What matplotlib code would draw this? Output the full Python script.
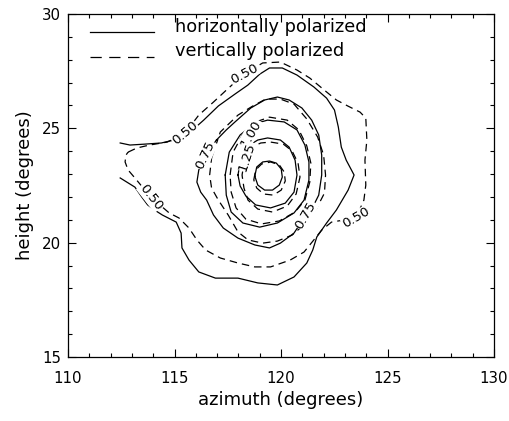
import numpy as np
import matplotlib.pyplot as plt

# contour traces (azimuth, height in degrees)
# horizontally polarized (solid)
h050_x = [112.45, 112.91, 113.60, 114.38, 114.98, 115.68, 116.37, 117.06, 117.84, 118.44, 119.00, 119.46,
          120.06, 120.75, 121.54, 122.14, 122.51, 122.69, 122.83, 123.06, 123.43, 123.15, 122.60, 122.14,
          121.68, 121.49, 121.21, 120.61, 119.83, 118.91, 117.98, 116.92, 116.14, 115.68, 115.35, 115.31,
          115.08, 114.43, 114.06, 113.74, 113.46, 113.14, 112.45]
h050_y = [24.36, 24.27, 24.31, 24.36, 24.49, 24.79, 25.36, 25.98, 26.50, 26.89, 27.37, 27.64,
          27.64, 27.33, 26.81, 26.32, 25.80, 25.06, 24.18, 23.61, 22.96, 22.30, 21.43, 20.86,
          20.25, 19.68, 19.11, 18.50, 18.15, 18.24, 18.45, 18.45, 18.72, 19.24, 19.77, 20.42,
          20.90, 21.21, 21.43, 21.65, 22.00, 22.43, 22.83]

h075_x = [116.97, 117.43, 117.84, 118.58, 119.23, 119.83, 120.38, 120.98, 121.44, 121.77, 121.91, 121.91,
          121.77, 121.54, 121.17, 120.61, 119.97, 119.46, 118.77, 117.98, 117.29, 116.83, 116.51, 116.23,
          116.05, 116.14, 116.46]
h075_y = [24.49, 24.93, 25.28, 25.89, 26.24, 26.37, 26.24, 25.89, 25.36, 24.71, 23.83, 22.96,
          22.08, 21.65, 21.21, 20.42, 19.98, 19.77, 19.90, 20.20, 20.64, 21.21, 21.86, 22.21,
          22.65, 23.18, 23.83]

h100_x = [117.38, 117.57, 118.08, 118.72, 119.37, 120.15, 120.75, 121.12, 121.31, 121.31, 121.08, 120.61,
          119.83, 119.00, 118.21, 117.66, 117.43]
h100_y = [22.96, 23.96, 24.71, 25.19, 25.36, 25.28, 24.93, 24.27, 23.53, 22.74, 21.86, 21.30,
          20.86, 20.68, 20.86, 21.34, 22.08]

h125_x = [117.98, 118.12, 118.45, 118.91, 119.37, 119.97, 120.38, 120.66, 120.75, 120.61, 120.20, 119.51,
          118.81, 118.35, 118.08]
h125_y = [22.96, 23.70, 24.23, 24.49, 24.58, 24.49, 24.18, 23.61, 22.96, 22.21, 21.73, 21.52,
          21.65, 22.04, 22.48]

h150_x = [118.77, 118.86, 119.14, 119.46, 119.78, 120.01, 120.06, 119.92, 119.60, 119.23, 118.91]
h150_y = [22.91, 23.31, 23.53, 23.57, 23.48, 23.22, 22.87, 22.52, 22.30, 22.30, 22.52]

# vertically polarized (dashed)
v050_x = [112.82, 113.23, 113.83, 114.66, 115.49, 116.14, 116.83, 117.43, 118.26, 119.14, 119.97, 120.75,
          121.35, 122.14, 122.60, 123.15, 123.71, 123.98, 124.03, 123.94, 123.98, 123.89, 123.52, 122.37,
          121.91, 121.54, 121.08, 120.43, 119.51, 118.77, 117.98, 117.15, 116.46, 116.05, 115.68, 115.21,
          114.75, 113.88, 113.14, 112.82, 112.68, 112.72]
v050_y = [23.96, 24.14, 24.27, 24.40, 24.79, 25.58, 26.15, 26.67, 27.37, 27.86, 27.90, 27.55,
          27.20, 26.59, 26.24, 25.97, 25.71, 25.45, 24.49, 23.61, 22.52, 21.86, 21.08, 20.90,
          20.55, 20.12, 19.59, 19.24, 18.94, 18.94, 19.11, 19.33, 19.68, 20.12, 20.64, 21.08,
          21.30, 22.00, 22.83, 23.18, 23.53, 23.83]

v075_x = [116.74, 117.15, 117.98, 118.68, 119.28, 119.97, 120.61, 121.21, 121.72, 122.00, 122.09, 122.04,
          121.68, 121.12, 120.52, 119.83, 119.14, 118.45, 117.98, 117.52, 117.06, 116.74, 116.65]
v075_y = [23.70, 24.84, 25.58, 25.98, 26.28, 26.28, 26.06, 25.41, 24.62, 23.83, 22.96, 22.17,
          21.52, 20.82, 20.33, 20.07, 19.98, 20.12, 20.47, 21.21, 21.86, 22.39, 22.96]

v100_x = [117.61, 117.75, 118.21, 118.81, 119.46, 120.29, 120.84, 121.21, 121.40, 121.35, 121.12, 120.66,
          119.92, 119.09, 118.35, 117.89, 117.66]
v100_y = [22.96, 23.96, 24.75, 25.28, 25.49, 25.36, 24.93, 24.23, 23.48, 22.65, 21.86, 21.34,
          20.95, 20.82, 21.03, 21.52, 22.21]

v125_x = [118.17, 118.31, 118.63, 119.05, 119.51, 120.11, 120.52, 120.80, 120.89, 120.71, 120.29, 119.60,
          118.91, 118.45, 118.26]
v125_y = [22.96, 23.70, 24.18, 24.36, 24.40, 24.31, 24.01, 23.48, 22.87, 22.13, 21.60, 21.34,
          21.47, 21.86, 22.39]

v150_x = [118.72, 118.81, 119.09, 119.51, 119.92, 120.15, 120.20, 120.01, 119.64, 119.18, 118.86]
v150_y = [22.74, 23.18, 23.44, 23.53, 23.40, 23.09, 22.70, 22.30, 22.08, 22.13, 22.39]

# contour labels: text, azimuth, height, angle
lab_text = ['0.50', '0.50', '0.50', '0.50', '0.75', '0.75', '1.00', '1.25']
lab_x = [115.49, 118.26, 123.52, 113.88, 116.46, 121.17, 118.58, 118.40]
lab_y = [24.79, 27.37, 21.08, 22.00, 23.83, 21.21, 24.79, 23.75]
lab_rot = [40, 28, 30, -52, 65, 60, 60, 72]

plt.rcParams['font.family'] = ['DejaVu Sans']

fig = plt.figure(figsize=(5.09, 4.21), dpi=100)
ax = fig.add_axes([0.1336, 0.152, 0.837, 0.8147])

lw = 0.9
dash = (6, 4)

def closed(x, y):
    return np.append(x, x[0]), np.append(y, y[0])

# solid, the 0.50 one is open on the left
ax.plot(h050_x, h050_y, color='black', lw=lw)
for cx, cy in [(h075_x, h075_y), (h100_x, h100_y), (h125_x, h125_y), (h150_x, h150_y)]:
    xx, yy = closed(cx, cy)
    ax.plot(xx, yy, color='black', lw=lw)

for cx, cy in [(v050_x, v050_y), (v075_x, v075_y), (v100_x, v100_y), (v125_x, v125_y), (v150_x, v150_y)]:
    xx, yy = closed(cx, cy)
    ax.plot(xx, yy, color='black', lw=lw, linestyle=(0, dash))

for t, x, y, r in zip(lab_text, lab_x, lab_y, lab_rot):
    ax.text(x, y, t, rotation=r, ha='center', va='center', fontsize=9.5, zorder=3,
            rotation_mode='anchor',
            bbox=dict(facecolor='white', edgecolor='none', pad=0.3))

# legend drawn by hand
ax.plot([0.051, 0.203], [0.948, 0.948], transform=ax.transAxes, color='black', lw=lw)
ax.plot([0.051, 0.203], [0.875, 0.875], transform=ax.transAxes, color='black', lw=lw,
        linestyle=(0, (9, 6)))
ax.text(0.251, 0.962, 'horizontally polarized', transform=ax.transAxes, fontsize=12.8, va='center')
ax.text(0.251, 0.892, 'vertically polarized', transform=ax.transAxes, fontsize=12.8, va='center')

ax.set_xlim(110, 130)
ax.set_ylim(15, 30)
ax.set_xticks(np.arange(110, 131, 5))
ax.set_yticks(np.arange(15, 31, 5))
ax.set_xticks(np.arange(110, 131, 1), minor=True)
ax.set_yticks(np.arange(15, 31, 1), minor=True)
ax.tick_params(which='both', direction='in', top=True, right=True, labelsize=10.8, width=0.8)
ax.tick_params(which='major', length=6)
ax.tick_params(which='minor', length=3)
ax.tick_params(axis='x', pad=10)
ax.tick_params(axis='y', pad=5)
for s in ax.spines.values():
    s.set_linewidth(0.9)

ax.set_xlabel('azimuth (degrees)', fontsize=13, labelpad=4)
ax.set_ylabel('height (degrees)', fontsize=13, labelpad=6)

fig.savefig('out.png', dpi=100)
